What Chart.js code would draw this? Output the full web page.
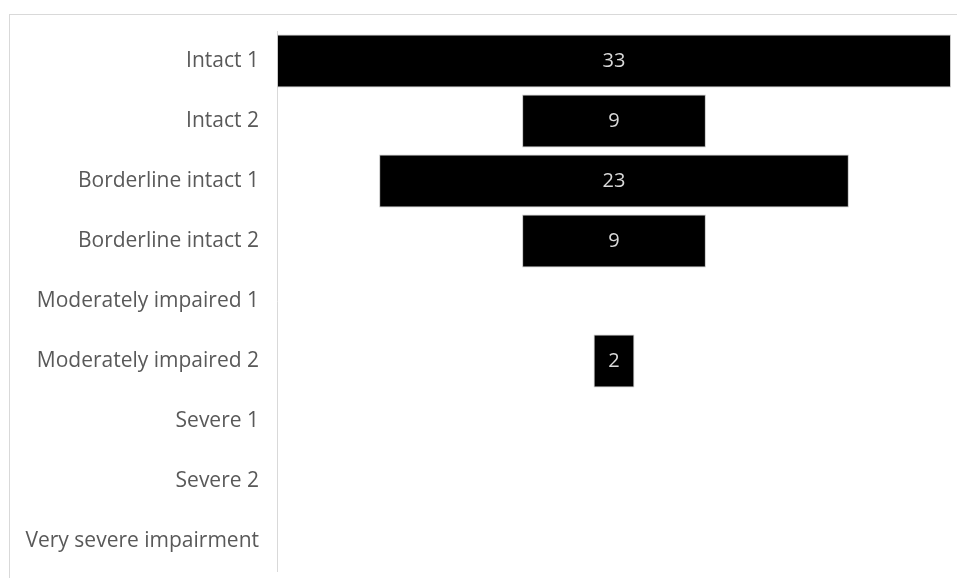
<!DOCTYPE html>
<html lang="en">
<head>
    <meta charset="UTF-8">
    <title>Funnel</title>
    <style>
        html, body { margin: 0; padding: 0; background: #fff; overflow: hidden; }
        canvas { display: block; }
    </style>
</head>
<body>
    <canvas id="myChart" width="957" height="578"></canvas>

    <script src="https://cdn.jsdelivr.net/npm/chart.js"></script>
    <script>
        const categories = ['Intact 1', 'Intact 2', 'Borderline intact 1', 'Borderline intact 2',
            'Moderately impaired 1', 'Moderately impaired 2', 'Severe 1', 'Severe 2', 'Very severe impairment'];
        const counts = [33, 9, 23, 9, 0, 2, 0, 0, 0];
        const maxCount = 33;

        // centred floating bars make the funnel shape
        const spans = counts.map(v => [-v / 2, v / 2]);

        const ctx = document.getElementById('myChart');

        const frame = {
            id: 'frame',
            beforeDraw(chart) {
                const c = chart.ctx;
                c.save();
                c.strokeStyle = '#d9d9d9';
                c.lineWidth = 1;
                c.strokeRect(9.5, 14.5, 1200, 1200);
                c.restore();
            }
        };

        const valueLabels = {
            id: 'valueLabels',
            afterDatasetsDraw(chart) {
                const c = chart.ctx;
                const meta = chart.getDatasetMeta(0);
                c.save();
                c.fillStyle = '#d9d9d9';
                c.font = '20px "Open Sans", sans-serif';
                c.textAlign = 'center';
                c.textBaseline = 'middle';
                meta.data.forEach((bar, i) => {
                    if (!counts[i]) return;
                    c.fillText(String(counts[i]), (bar.x + bar.base) / 2, bar.y);
                });
                c.restore();
            }
        };

        new Chart(ctx, {
            type: 'bar',
            data: {
                labels: categories,
                datasets: [{
                    data: spans,
                    backgroundColor: '#000000',
                    borderColor: '#c8c8c8',
                    borderWidth: 1,
                    borderSkipped: false,
                    barPercentage: 0.88,
                    categoryPercentage: 1
                }]
            },
            plugins: [frame, valueLabels],
            options: {
                indexAxis: 'y',
                responsive: false,
                animation: false,
                layout: { padding: { top: 31, bottom: 7, right: 6, left: 0 } },
                plugins: {
                    legend: { display: false },
                    tooltip: { enabled: false }
                },
                scales: {
                    x: {
                        display: false,
                        min: -maxCount / 2,
                        max: maxCount / 2
                    },
                    y: {
                        afterFit(scale) {
                            scale.width = 277;
                            // don't let label padding push the plot area in
                            scale.paddingTop = 0;
                            scale.paddingBottom = 0;
                        },
                        grid: { display: false, drawTicks: false },
                        border: { display: true, color: '#d9d9d9', width: 1 },
                        ticks: {
                            color: '#595959',
                            padding: 18,
                            font: { family: '"Open Sans", sans-serif', size: 21 }
                        }
                    }
                }
            }
        });
    </script>
</body>
</html>
